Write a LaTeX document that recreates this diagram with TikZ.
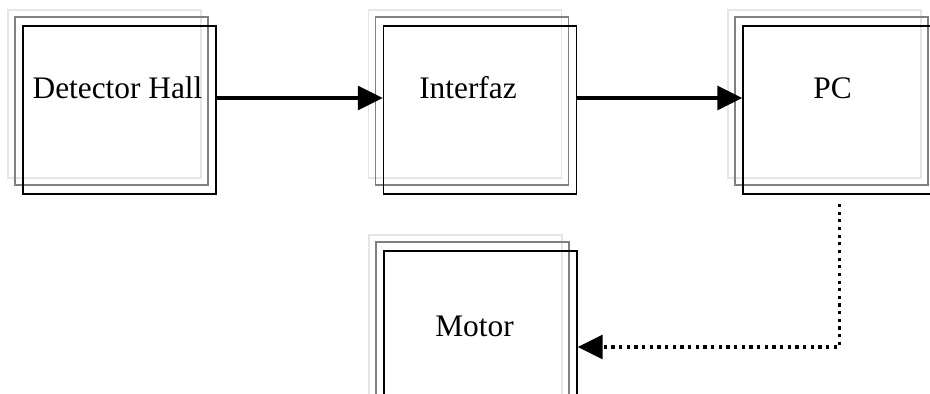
\documentclass[tikz,border=0pt]{standalone}
\usepackage{fontspec}
\setmainfont{Liberation Serif}
\usepackage{tikz}
\usetikzlibrary{arrows.meta}
\usetikzlibrary{shadows}
\usetikzlibrary{calc}

\tikzset{
  unit/.style={draw, line width=1.2pt, minimum width=4.825cm, minimum height=4.2cm,
    inner sep=0pt,
    general shadow={shadow xshift=-0.375cm, shadow yshift=0.4cm, draw=black!10, line width=1.2pt},
    general shadow={shadow xshift=-0.2cm, shadow yshift=0.225cm, draw=black!50, line width=1.2pt}},
  link/.style={line width=2.3pt, -{Triangle[length=0.62cm,width=0.6cm]}},
  ctrl/.style={link, dash pattern=on 2.35pt off 3.1pt}
}

\begin{document}
\begin{tikzpicture}[x=0.025cm, y=-0.025cm, font=\fontsize{22.3}{26}\selectfont]
\useasboundingbox (0,0) rectangle (930,394);
% blocks, text sits a bit above the middle
\node[unit, label={[shift={(-2,-22)}]center:Detector Hall}] (hall) at (119.5,110) {};
\node[unit, label={[shift={(-12,-22)}]center:Interfaz}] (iface) at (480,110) {};
\node[unit, label={[shift={(-7,-22)}]center:PC}] (pc) at (839.5,110) {};
\node[unit, label={[shift={(-6,-9)}]center:Motor}] (motor) at (480.5,335) {};
% data path
\draw[link] ([yshift=0.3cm]hall.east) -- ([yshift=0.3cm]iface.west);
\draw[link] ([yshift=0.3cm]iface.east) -- ([yshift=0.3cm]pc.west);
% control back to the motor
\draw[ctrl] ([yshift=-0.225cm]pc.south) |- ([yshift=-0.3cm]motor.east);
\end{tikzpicture}
\end{document}
